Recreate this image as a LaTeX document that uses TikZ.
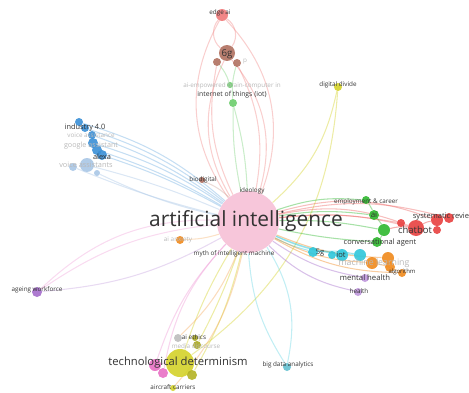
\documentclass[tikz,border=0pt]{standalone}
\usepackage{fontspec}
\setmainfont{Open Sans}
\usetikzlibrary{backgrounds}

\definecolor{aipink}{HTML}{F4B3CE}
\definecolor{vred}{HTML}{E8403F}
\definecolor{vbrown}{HTML}{B0705F}
\definecolor{vgreen}{HTML}{2DB82D}
\definecolor{vblue}{HTML}{3A8FD6}
\definecolor{vlblue}{HTML}{A9C6E6}
\definecolor{vcyan}{HTML}{2EC6DA}
\definecolor{vorange}{HTML}{F0891C}
\definecolor{vpurple}{HTML}{A46BCB}
\definecolor{vyellow}{HTML}{D4D22A}
\definecolor{vgray}{HTML}{BDBDBD}
\definecolor{vmagenta}{HTML}{E870C4}
\definecolor{vteal}{HTML}{62C0D0}
\definecolor{labtext}{HTML}{333333}
\definecolor{fadetext}{HTML}{B8B8B8}

\begin{document}
\begin{tikzpicture}[
        x=0.02cm, y=-0.02cm,
        bub/.style={circle, inner sep=0pt, minimum size=#1*0.04cm, fill opacity=0.9},
        lab/.style={font=\fontsize{3.6}{4}\selectfont, text=labtext, inner sep=0pt},
        fade/.style={font=\fontsize{3.6}{4}\selectfont, text=fadetext, inner sep=0pt},
        link/.style={line width=0.6pt, draw opacity=0.42}
        ]
        \useasboundingbox (0,0) rectangle (469,392);

        % Hub
        \node[bub=31, fill=aipink, fill opacity=0.75] (ai) at (248,222) {};

        % Top branch
        \node[bub=8, fill=vbrown] (sixg) at (227,53) {};
        \node[bub=6, fill=vred!70] (edgeai) at (222,15) {};
        \node[bub=4, fill=vbrown] (sixga) at (217,62) {};
        \node[bub=4, fill=vbrown] (sixgb) at (237,63) {};
        \node[bub=3, fill=vgreen!70] (bci) at (230,85) {};
        \node[bub=4, fill=vgreen!70] (iot) at (233,103) {};
        \node[bub=4, fill=vyellow] (divide) at (338,87) {};

        % Left cluster
        \node[bub=4, fill=vblue] (industry) at (79,122) {};
        \node[bub=4, fill=vblue] (indb) at (85,128) {};
        \node[bub=4, fill=vblue] (indc) at (92,135) {};
        \node[bub=5, fill=vblue] (google) at (93,143) {};
        \node[bub=5, fill=vblue] (alexa) at (97,150) {};
        \node[bub=5, fill=vblue] (alexab) at (102,155) {};
        \node[bub=7, fill=vlblue] (voice) at (87,165) {};
        \node[bub=4, fill=vlblue] (voiceb) at (73,167) {};
        \node[bub=3, fill=vlblue] (voicec) at (97,173) {};
        \node[bub=3, fill=vbrown] (biodig) at (202,180) {};
        \node[bub=4, fill=vorange] (anxiety) at (180,240) {};
        \node[bub=5, fill=vpurple] (ageing) at (37,292) {};

        % Right cluster
        \node[bub=4, fill=vgreen] (employ) at (366,200) {};
        \node[bub=5, fill=vgreen] (aigr) at (374,215) {};
        \node[bub=6, fill=vgreen] (convb) at (384,230) {};
        \node[bub=5, fill=vgreen] (conv) at (377,242) {};
        \node[bub=8, fill=vred] (chatbot) at (416,228) {};
        \node[bub=4, fill=vred] (chatb) at (401,223) {};
        \node[bub=6, fill=vred] (sysrev) at (437,220) {};
        \node[bub=5, fill=vred] (sysb) at (449,218) {};
        \node[bub=4, fill=vred] (sysc) at (437,230) {};
        \node[bub=5, fill=vcyan] (fiveg) at (313,252) {};
        \node[bub=4, fill=vcyan] (fivegb) at (332,255) {};
        \node[bub=6, fill=vcyan] (iotb) at (342,255) {};
        \node[bub=6, fill=vcyan] (iotc) at (360,255) {};
        \node[bub=6, fill=vorange] (ml) at (372,263) {};
        \node[bub=6, fill=vorange] (mlb) at (388,258) {};
        \node[bub=5, fill=vorange] (mlc) at (390,267) {};
        \node[bub=4, fill=vorange] (algo) at (402,273) {};
        \node[bub=4, fill=vpurple!70] (mental) at (365,278) {};
        \node[bub=4, fill=vpurple!70] (health) at (358,292) {};

        % Bottom
        \node[bub=4, fill=vgray] (ethics) at (178,338) {};
        \node[bub=3, fill=vyellow!80!black] (ethicsb) at (195,338) {};
        \node[bub=4, fill=vyellow!80!black] (media) at (197,345) {};
        \node[bub=14, fill=vyellow] (techdet) at (180,363) {};
        \node[bub=6, fill=vmagenta] (techpink) at (155,365) {};
        \node[bub=5, fill=vmagenta] (techpinkb) at (163,373) {};
        \node[bub=5, fill=vyellow!85!black] (techb) at (192,375) {};
        \node[bub=3, fill=vyellow] (aircraft) at (173,388) {};
        \node[bub=4, fill=vteal] (bigdata) at (287,367) {};

        % Labels
        \node[font=\fontsize{11.9}{13}\selectfont, text=labtext, inner sep=0pt] (ai-l) at (246,221) {artificial intelligence};
        \node[font=\fontsize{6.4}{7}\selectfont, text=labtext, inner sep=0pt] (techdet-l) at (178,363) {technological determinism};
        \node[lab] (edgeai-l) at (220,13) {edge ai};
        \node[font=\fontsize{5.5}{6}\selectfont, text=labtext, inner sep=0pt] (sixg-l) at (227,54) {6g};
        \node[fade] (sixgb-l) at (245,62) {p};
        \node[fade] (bci-l) at (232,86) {ai-empowered brain-computer in};
        \node[font=\fontsize{3.9}{4}\selectfont, text=labtext, inner sep=0pt] (iot-l) at (232,95) {internet of things (iot)};
        \node[lab] (divide-l) at (338,85) {digital divide};
        \node[font=\fontsize{4.2}{5}\selectfont, text=labtext, inner sep=0pt] (industry-l) at (85,128) {industry 4.0};
        \node[fade] (indc-l) at (91,135) {voice assistance};
        \node[font=\fontsize{4.1}{5}\selectfont, text=fadetext, inner sep=0pt] (google-l) at (91,146) {google assistant};
        \node[font=\fontsize{4.2}{5}\selectfont, text=labtext, inner sep=0pt] (alexa-l) at (102,157) {alexa};
        \node[font=\fontsize{4.2}{5}\selectfont, text=fadetext, inner sep=0pt] (voice-l) at (86,165) {voice assistants};
        \node[lab] (biodig-l) at (203,180) {biodigital};
        \node[lab] (ideology-l) at (252,191) {ideology};
        \node[fade] (anxiety-l) at (178,240) {ai anxiety};
        \node[lab] (myth-l) at (234,254) {myth of intelligent machine};
        \node[lab] (ageing-l) at (37,290) {ageing workforce};
        \node[lab] (employ-l) at (366,202) {employment \& career};
        \node[font=\fontsize{4.5}{5}\selectfont, text=labtext, inner sep=0pt] (aigr-l) at (374,215) {ai};
        \node[font=\fontsize{4.3}{5}\selectfont, text=labtext, inner sep=0pt] (sysrev-l) at (441,217) {systematic revie};
        \node[font=\fontsize{5.4}{6}\selectfont, text=labtext, inner sep=0pt] (chatbot-l) at (415,230) {chatbot};
        \node[font=\fontsize{4.25}{5}\selectfont, text=labtext, inner sep=0pt] (conv-l) at (380,243) {conversational agent};
        \node[font=\fontsize{4.3}{5}\selectfont, text=labtext, inner sep=0pt] (fiveg-l) at (320,253) {5g};
        \node[font=\fontsize{4.3}{5}\selectfont, text=labtext, inner sep=0pt] (iotb-l) at (341,255) {iot};
        \node[font=\fontsize{5}{6}\selectfont, text=fadetext, inner sep=0pt] (ml-l) at (374,263) {machine learning};
        \node[font=\fontsize{3.4}{4}\selectfont, text=labtext, inner sep=0pt] (algo-l) at (402,272) {algorithm};
        \node[font=\fontsize{4.4}{5}\selectfont, text=labtext, inner sep=0pt] (mental-l) at (365,278) {mental health};
        \node[lab] (health-l) at (359,291) {health};
        \node[lab] (ethics-l) at (194,337) {ai ethics};
        \node[fade] (media-l) at (196,346) {media discourse};
        \node[lab] (aircraft-l) at (173,387) {aircraft carriers};
        \node[lab] (bigdata-l) at (288,365) {big data analytics};

        % Links
        \begin{scope}[on background layer]
        \draw[link, vred!60] (ai) to[bend left=28] (sixg);
        \draw[link, vred!60] (ai) to[bend right=28] (sixg);
        \draw[link, vred!60] (ai) to[bend left=18] (sixga);
        \draw[link, vred!60] (ai) to[bend right=18] (sixgb);
        \draw[link, vred!60] (sixg) to[bend left=45] (edgeai);
        \draw[link, vred!60] (sixg) to[bend right=45] (edgeai);
        \draw[link, vred!60] (ai) to[bend left=32] (edgeai);
        \draw[link, vred!60] (ai) to[bend right=32] (edgeai);
        \draw[link, vgreen!60] (ai) to[bend left=6] (iot);
        \draw[link, vgreen!60] (ai) to[bend right=6] (iot);
        \draw[link, vgreen!60] (iot) to[bend left=10] (sixgb);
        \draw[link, vgreen!60] (bci) to[bend right=10] (sixga);
        \draw[link, vyellow] (ai) to[bend right=18] (divide);
        \draw[link, vyellow] (techdet) to[bend right=25] (divide);
        \draw[link, vblue!70] (ai) to[bend right=12] (industry);
        \draw[link, vblue!70] (ai) to[bend right=10] (indb);
        \draw[link, vblue!70] (ai) to[bend right=8] (indc);
        \draw[link, vblue!70] (ai) to[bend right=8] (google);
        \draw[link, vblue!70] (ai) to[bend right=6] (alexa);
        \draw[link, vblue!70] (ai) to[bend right=5] (alexab);
        \draw[link, vlblue] (ai) to[bend right=4] (voice);
        \draw[link, vlblue] (ai) to[bend left=4] (voiceb);
        \draw[link, vlblue] (ai) to[bend left=6] (voicec);
        \draw[link, vbrown!60] (ai) to[bend right=10] (biodig);
        \draw[link, vmagenta!60] (ai) to[bend right=22] (ageing);
        \draw[link, vmagenta!60] (ai) to[bend right=14] (ageing);
        \draw[link, vpurple!60] (ai) to[bend left=12] (ageing);
        \draw[link, vorange!60] (ai) to[bend left=8] (anxiety);
        \draw[link, vmagenta!70] (ai) to[bend right=12] (techpink);
        \draw[link, vmagenta!70] (ai) to[bend right=16] (techpinkb);
        \draw[link, vyellow] (ai) to[bend right=6] (techdet);
        \draw[link, vyellow] (ai) to[bend left=8] (techb);
        \draw[link, vyellow] (ai) to[bend left=4] (media);
        \draw[link, vorange!70] (ai) to[bend left=12] (ethics);
        \draw[link, vorange!70] (ai) to[bend left=14] (aircraft);
        \draw[link, vcyan!70] (ai) to[bend left=22] (bigdata);
        \draw[link, vcyan!70] (ai) to[bend right=14] (bigdata);
        \draw[link, vgreen] (ai) to[bend left=12] (employ);
        \draw[link, vgreen] (ai) to[bend left=8] (aigr);
        \draw[link, vgreen] (ai) to[bend left=6] (convb);
        \draw[link, vgreen] (ai) to[bend right=4] (conv);
        \draw[link, vred!80] (ai) to[bend left=16] (chatbot);
        \draw[link, vred!80] (ai) to[bend left=10] (chatbot);
        \draw[link, vred!80] (ai) to[bend left=18] (sysrev);
        \draw[link, vred!80] (ai) to[bend left=14] (sysb);
        \draw[link, vred!80] (ai) to[bend left=8] (chatb);
        \draw[link, vcyan] (ai) to[bend right=6] (fiveg);
        \draw[link, vcyan] (ai) to[bend right=8] (iotb);
        \draw[link, vcyan] (ai) to[bend right=10] (iotc);
        \draw[link, vorange] (ai) to[bend right=12] (ml);
        \draw[link, vorange] (ai) to[bend right=10] (mlb);
        \draw[link, vorange] (ai) to[bend right=14] (algo);
        \draw[link, vpurple] (ai) to[bend right=12] (mental);
        \draw[link, vpurple] (ai) to[bend right=16] (health);
        \draw[link, vgreen] (employ) to[bend left=10] (aigr);
        \draw[link, vgreen] (aigr) to[bend left=10] (convb);
        \draw[link, vgreen] (convb) to[bend left=10] (conv);
        \draw[link, vred] (convb) to[bend left=10] (chatbot);
        \draw[link, vred] (chatbot) to[bend left=10] (sysrev);
        \draw[link, vcyan] (fiveg) to[bend left=8] (iotc);
        \draw[link, vorange] (ml) to[bend left=8] (algo);
        \draw[link, vmagenta!60] (techpink) to[bend left=6] (techdet);
        \end{scope}
    \end{tikzpicture}
\end{document}
